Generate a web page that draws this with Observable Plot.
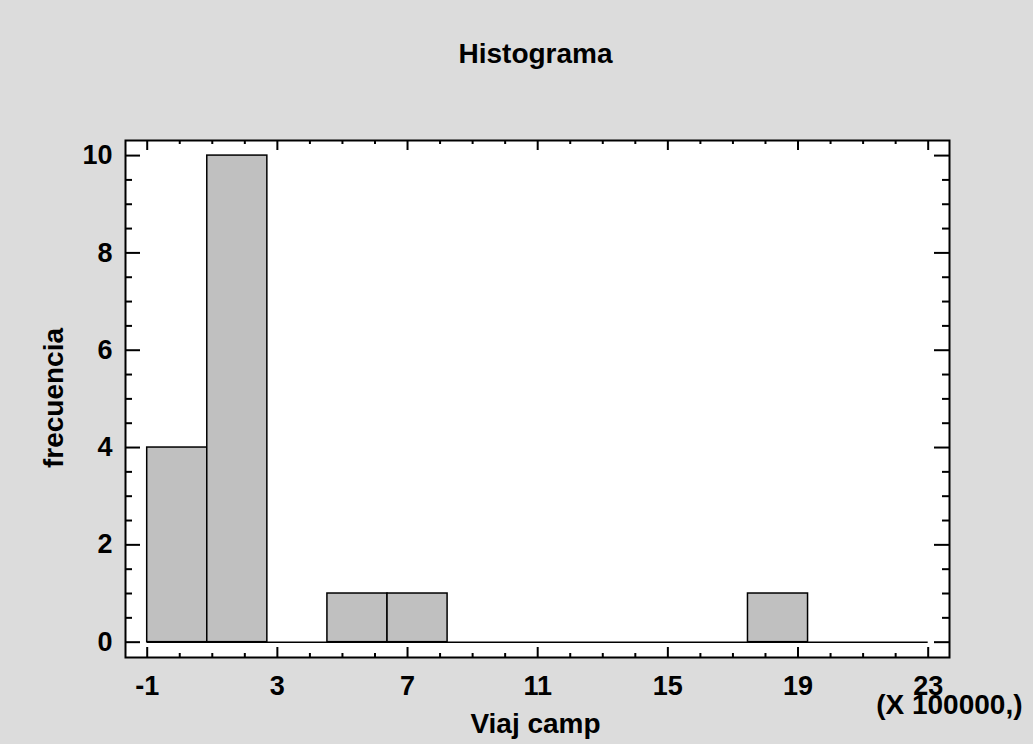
<!DOCTYPE html>
<html>
<head>
<meta charset="utf-8">
<script src="https://cdn.jsdelivr.net/npm/d3@7"></script>
<script src="https://cdn.jsdelivr.net/npm/@observablehq/plot@0.6"></script>
<style>
  html, body { margin: 0; padding: 0; background: #dcdcdc; }
  #chart { width: 1033px; height: 744px; }
</style>
</head>
<body>
<div id="chart"></div>
<script>
// ---- data ----
const titleText = "Histograma";
const xLabelText = "Viaj camp";
const yLabelText = "frecuencia";
const scaleNote = "(X 100000,)";
const binEdges = [-1, 0.846, 2.692, 4.538, 6.385, 8.231, 10.077, 11.923, 13.769, 15.615, 17.462, 19.308, 21.154, 23];
const counts = [4, 10, 0, 1, 1, 0, 0, 0, 0, 0, 1, 0, 0];
const xMajorTicks = [-1, 3, 7, 11, 15, 19, 23];
const xMinorTicks = [0, 1, 2, 4, 5, 6, 8, 9, 10, 12, 13, 14, 16, 17, 18, 20, 21, 22];
const yMajorTicks = [0, 2, 4, 6, 8, 10];
const yMinorTicks = [0.5, 1, 1.5, 2.5, 3, 3.5, 4.5, 5, 5.5, 6.5, 7, 7.5, 8.5, 9, 9.5];

// ---- layout ----
const W = 1033, H = 744;
const mL = 125, mR = 84, mT = 140, mB = 87;
const pW = W - mL - mR, pH = H - mT - mB;
const font = "'Liberation Sans', Arial, sans-serif";

const bins = counts.map((c, i) => ({x1: binEdges[i], x2: binEdges[i + 1], n: c})).filter(d => d.n > 0);

const tickStyle = {stroke: "black", strokeWidth: 2};

const chart = Plot.plot({
  width: W,
  height: H,
  marginLeft: mL,
  marginRight: mR,
  marginTop: mT,
  marginBottom: mB,
  style: {background: "#dcdcdc", fontFamily: font, color: "black", overflow: "visible"},
  x: {domain: [-1.667, 23.655], label: null},
  y: {domain: [-0.315, 10.31], label: null},
  marks: [
    Plot.frame({fill: "white"}),
    Plot.rect(bins, {x1: "x1", x2: "x2", y1: 0, y2: "n", fill: "#c0c0c0", stroke: "black", strokeWidth: 1.5}),
    Plot.ruleY([0], {x1: binEdges[0], x2: binEdges[binEdges.length - 1], stroke: "black", strokeWidth: 1.5}),
    // bottom ticks (inward)
    Plot.tickX(xMajorTicks, {x: d => d, insetTop: pH - 10, ...tickStyle}),
    Plot.tickX(xMinorTicks, {x: d => d, insetTop: pH - 4, ...tickStyle}),
    // top ticks (inward)
    Plot.tickX(xMajorTicks, {x: d => d, insetBottom: pH - 10, ...tickStyle}),
    Plot.tickX(xMinorTicks, {x: d => d, insetBottom: pH - 4, ...tickStyle}),
    // left ticks
    Plot.tickY(yMajorTicks, {y: d => d, insetRight: pW - 15, ...tickStyle}),
    Plot.tickY(yMinorTicks, {y: d => d, insetRight: pW - 7, ...tickStyle}),
    // right ticks
    Plot.tickY(yMajorTicks, {y: d => d, insetLeft: pW - 15, ...tickStyle}),
    Plot.tickY(yMinorTicks, {y: d => d, insetLeft: pW - 7, ...tickStyle}),
    Plot.frame({stroke: "black", strokeWidth: 2}),
    Plot.axisX(xMajorTicks, {tickSize: 0, tickPadding: 18, fontSize: 27, fontWeight: "bold", tickFormat: d => String(d), label: null}),
    Plot.axisY(yMajorTicks, {tickSize: 0, tickPadding: 13, fontSize: 27, fontWeight: "bold", tickFormat: d => String(d), label: null}),
    Plot.text([titleText], {frameAnchor: "top", text: d => d, dx: -2, dy: -78, textAnchor: "middle", lineAnchor: "bottom", fontSize: 28, fontWeight: "bold"}),
    Plot.text([xLabelText], {frameAnchor: "bottom", text: d => d, dx: -2, dy: 75, textAnchor: "middle", lineAnchor: "bottom", fontSize: 28, fontWeight: "bold"}),
    Plot.text([scaleNote], {frameAnchor: "bottom-right", text: d => d, dx: 73, dy: 56, textAnchor: "end", lineAnchor: "bottom", fontSize: 28, fontWeight: "bold"}),
    Plot.text([yLabelText], {frameAnchor: "left", text: d => d, dx: -63, dy: -1, rotate: -90, textAnchor: "middle", lineAnchor: "bottom", fontSize: 28, fontWeight: "bold"})
  ]
});
document.getElementById("chart").appendChild(chart);
</script>
</body>
</html>
